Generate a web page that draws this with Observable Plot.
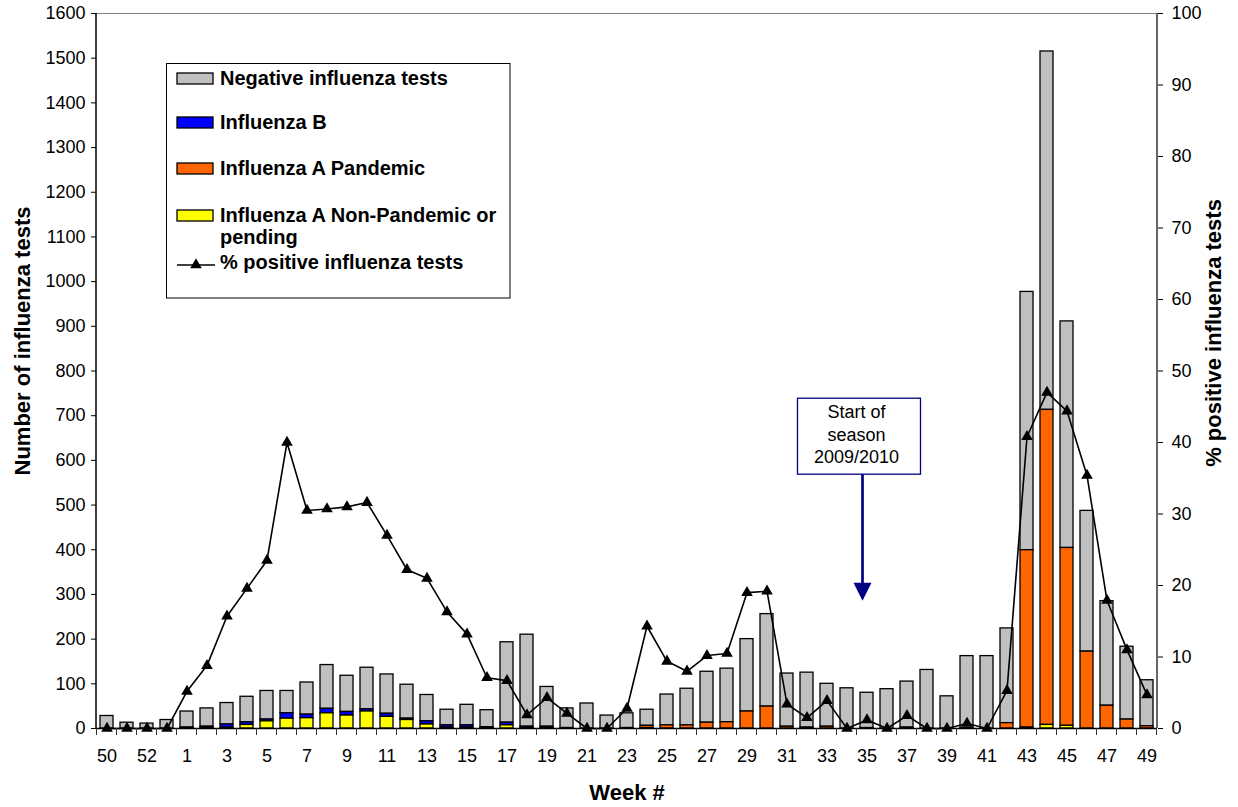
<!DOCTYPE html>
<html><head><meta charset="utf-8">
<script src="https://cdn.jsdelivr.net/npm/d3@7"></script>
<script src="https://cdn.jsdelivr.net/npm/@observablehq/plot@0.6"></script>
<style>body{margin:0;background:#fff;} svg{display:block}</style>
</head><body><div id="chart"></div>
<script>
// ---- data ----
const weeks = ["50","51","52","53","1","2","3","4","5","6","7","8","9","10","11","12","13","14","15","16","17","18","19","20","21","22","23","24","25","26","27","28","29","30","31","32","33","34","35","36","37","38","39","40","41","42","43","44","45","46","47","48","49"];
const xTickLabels = ["50","52","1","3","5","7","9","11","13","15","17","19","21","23","25","27","29","31","33","35","37","39","41","43","45","47","49"];
const countTicks = [0,100,200,300,400,500,600,700,800,900,1000,1100,1200,1300,1400,1500,1600];
const pctTicks = [0,10,20,30,40,50,60,70,80,90,100];

const negative = [28,13,11,19, 36,41,48,57,64,50,72,98,81,93,88,76,59,35,46,38,180,206,89,44,56,29,33,36,69,82,114,120,162,207,119,123,96,90,79,88,103,131,72,161,162,212,578,802,507,315,234,163,103];
const fluB = [0,0,0,0, 1,2,7,6,4,12,8,10,8,5,7,3,7,5,5,2,6,3,3,1,0,0,0,0,0,0,0,0,0,0,0,0,0,0,0,0,0,0,0,0,0,0,0,0,0,0,0,0,0];
const fluAPandemic = [0,0,0,0, 0,0,0,0,0,0,0,0,0,0,0,0,0,0,0,0,0,0,0,0,0,0,0,5,7,7,13,14,38,49,4,2,4,0,1,0,2,0,0,1,0,12,397,705,398,172,51,20,5];
const fluANonPandemic = [0,0,0,0, 1,2,2,8,16,22,23,34,29,38,26,19,9,2,2,1,7,1,1,0,0,0,1,1,0,0,0,0,0,0,0,0,0,0,0,0,0,0,0,0,0,0,2,8,6,0,0,0,0];
const pctPositive = [0,0,0,0, 5.2,8.8,15.7,19.6,23.5,40.0,30.5,30.7,31.0,31.6,27.0,22.2,21.0,16.3,13.2,7.1,6.7,1.9,4.3,2.1,0,0,2.8,14.3,9.4,8.0,10.2,10.5,19.0,19.2,3.4,1.5,3.9,0,1.2,0,1.8,0,0,0.7,0,5.3,40.8,47.0,44.4,35.4,17.9,11.0,4.7];

const seriesNames = ["Negative influenza tests","Influenza B","Influenza A Pandemic","Influenza A Non-Pandemic or\npending"];
const seriesColors = ["#C0C0C0","#0000FF","#FF6600","#FFFF00"];
const lineName = "% positive influenza tests";
const stackOrder = [seriesNames[3], seriesNames[2], seriesNames[1], seriesNames[0]];

// table for the library
const seriesValues = [negative, fluB, fluAPandemic, fluANonPandemic];
const rows = [];
weeks.forEach((w, i) => {
  seriesNames.forEach((s, k) => rows.push({week: w, series: s, value: seriesValues[k][i]}));
});
const pctRows = weeks.map((w, i) => ({week: w, pct: pctPositive[i]}));
const RATIO = 1600 / 100; // right axis maps 0..100 onto 0..1600

const FONT = "'Liberation Sans', Arial, Helvetica, sans-serif";

const chart = Plot.plot({
  width: 1238, height: 807,
  marginLeft: 96, marginRight: 81, marginTop: 13, marginBottom: 79,
  style: {fontFamily: FONT, fontSize: "18px", background: "white", color: "black"},
  x: {domain: weeks, paddingInner: 0.33, paddingOuter: 0.165, label: null, axis: null},
  y: {domain: [0, 1600], label: null, axis: null},
  color: {domain: seriesNames, range: seriesColors},
  marks: [
    Plot.barY(rows, Plot.stackY({x: "week", y: "value", fill: "series", order: stackOrder, stroke: "black", strokeWidth: 1.3})),
    Plot.line(pctRows, {x: "week", y: d => d.pct * RATIO, stroke: "black", strokeWidth: 1.6}),
    Plot.dot(pctRows, {x: "week", y: d => d.pct * RATIO, symbol: "triangle", fill: "black", r: 4.3}),
    Plot.axisY({ticks: countTicks, tickFormat: d => String(d), tickSize: 5, tickPadding: 6, label: null, fontSize: 18}),
    Plot.axisY({anchor: "right", ticks: pctTicks.map(p => p * RATIO), tickFormat: d => String(d / RATIO), tickSize: 5, tickPadding: 9, label: null, fontSize: 18}),
    Plot.axisX({ticks: xTickLabels, tickSize: 0, tickPadding: 21, label: null, fontSize: 18}),
    Plot.ruleY([1600], {stroke: "#808080", strokeWidth: 1}),
    Plot.ruleY([0], {stroke: "black", strokeWidth: 1.5}),
    Plot.text(["Number of influenza tests"], {frameAnchor: "left", textAnchor: "middle", dx: -74, dy: -30, rotate: -90, fontWeight: "bold", fontSize: 22}),
    Plot.text([lineName], {frameAnchor: "right", textAnchor: "middle", dx: 56, dy: -38, rotate: -90, fontWeight: "bold", fontSize: 22}),
    Plot.text(["Week #"], {frameAnchor: "bottom", textAnchor: "middle", dy: 71, fontWeight: "bold", fontSize: 22})
  ]
});
document.getElementById("chart").appendChild(chart);

// ---- overlays positioned from the chart's scales ----
const sx = chart.scale("x"), sy = chart.scale("y");
const svg = d3.select(chart);
const bw = sx.bandwidth, step = sx.step;
const gap = (step - bw) / 2;
const xL = sx.range[0], xR = sx.range[1];
const y0 = sy.apply(0), yTop = sy.apply(1600);

// axis lines
svg.append("line").attr("x1", xL).attr("x2", xL).attr("y1", yTop).attr("y2", y0).attr("stroke", "black").attr("stroke-width", 1.5);
svg.append("line").attr("x1", xR).attr("x2", xR).attr("y1", yTop).attr("y2", y0).attr("stroke", "#333").attr("stroke-width", 1.5);

// category boundary tick marks on x axis
const bounds = weeks.map(w => sx.apply(w) - gap);
bounds.push(sx.apply(weeks[weeks.length - 1]) + bw + gap);
svg.append("g").selectAll("line").data(bounds).join("line")
  .attr("x1", d => d).attr("x2", d => d).attr("y1", y0).attr("y2", y0 + 7)
  .attr("stroke", "#333").attr("stroke-width", 1);

// annotation: start of season
const ax = sx.apply("35") + bw / 2 - 4;
const boxTop = sy.apply(738), boxBot = sy.apply(568), tip = sy.apply(285);
const ann = svg.append("g").attr("font-family", FONT).attr("text-anchor", "middle");
ann.append("rect").attr("x", ax - 65).attr("y", boxTop).attr("width", 123).attr("height", boxBot - boxTop)
  .attr("fill", "white").attr("stroke", "#000080").attr("stroke-width", 1.3);
["Start of", "season", "2009/2010"].forEach((t, i) => {
  ann.append("text").attr("x", ax - 6).attr("y", boxTop + 20 + i * 22.3).attr("text-anchor", "middle")
    .attr("font-size", 18).attr("fill", "black").text(t);
});
ann.append("line").attr("x1", ax).attr("x2", ax).attr("y1", boxBot).attr("y2", tip - 17)
  .attr("stroke", "#000080").attr("stroke-width", 2.7);
ann.append("path").attr("d", `M${ax - 9},${tip - 18}L${ax + 9},${tip - 18}L${ax},${tip}Z`).attr("fill", "#000080");

// legend
const lg = svg.append("g").attr("font-family", FONT).attr("font-weight", "bold").attr("font-size", 20).attr("text-anchor", "start");
lg.append("rect").attr("x", 166.5).attr("y", 63.5).attr("width", 343.5).attr("height", 234.5)
  .attr("fill", "white").attr("stroke", "black").attr("stroke-width", 1);
const swY = [73, 117, 163, 210];
seriesNames.forEach((s, k) => {
  lg.append("rect").attr("x", 177).attr("y", swY[k]).attr("width", 36).attr("height", 11)
    .attr("fill", seriesColors[k]).attr("stroke", "black").attr("stroke-width", 1.3);
  s.split("\n").forEach((line, j) => {
    lg.append("text").attr("x", 220).attr("y", swY[k] + 11.5 + j * 22).attr("text-anchor", "start").attr("fill", "black").text(line);
  });
});
lg.append("line").attr("x1", 177).attr("x2", 215).attr("y1", 265).attr("y2", 265).attr("stroke", "black").attr("stroke-width", 1.6);
lg.append("path").attr("d", d3.symbol(d3.symbolTriangle, Math.PI * 4.3 * 4.3)()).attr("transform", "translate(196,265)").attr("fill", "black");
lg.append("text").attr("x", 220).attr("y", 268.5).attr("text-anchor", "start").attr("fill", "black").text(lineName);
</script>
</body></html>
